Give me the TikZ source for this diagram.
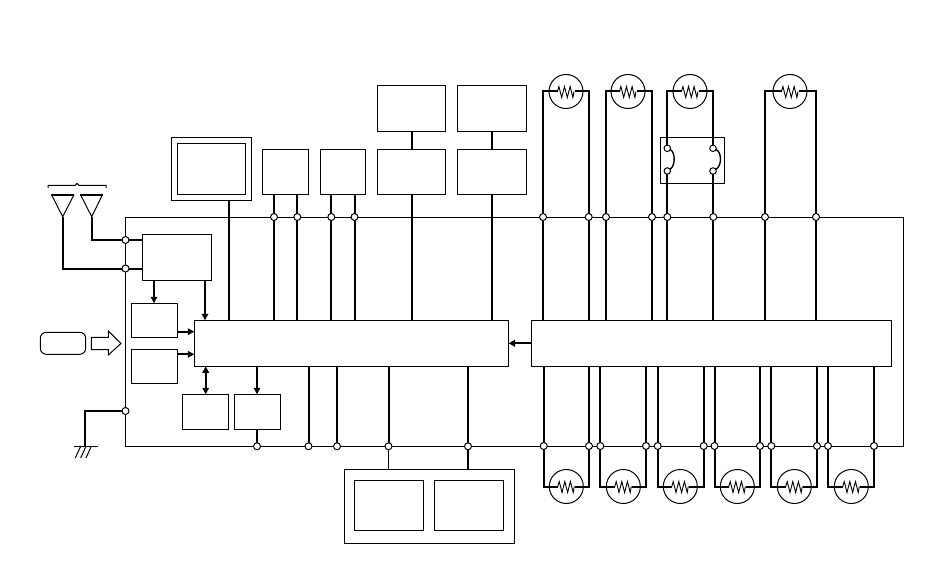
\documentclass[tikz,border=0pt]{standalone}
\usetikzlibrary{arrows.meta}
\pgfdeclarelayer{bg}
\pgfsetlayers{bg,main}
\tikzset{
  thinl/.style={line width=1pt,draw=black},
  wire/.style={line width=2pt,draw=black,line join=miter},
  box/.style={draw=black,line width=1pt,fill=none,inner sep=0pt,outer sep=0pt,rectangle},
  pin/.style={circle,draw=black,line width=1pt,fill=white,inner sep=0pt,minimum size=7pt,outer sep=0pt},
  bulb/.style={circle,draw=black,line width=1pt,inner sep=0pt,minimum size=34pt,outer sep=0pt},
  arr/.style={wire,-{Triangle[length=6.5pt,width=6.5pt]}},
  darr/.style={wire,{Triangle[length=6.5pt,width=6.5pt]}-{Triangle[length=6.5pt,width=6.5pt]}},
}
\newcommand{\bx}[5]{\node[box,minimum width={(#4-#2)*1pt},minimum height={(#5-#3)*1pt}] (#1) at ({(#2+#4)/2},{(#3+#5)/2}) {};}
\newcommand{\lampnode}[3]{%
  \node[bulb] (#1) at (#2,#3) {};
  \coordinate (#1-l) at (#2-8.5,#3);
  \coordinate (#1-r) at (#2+8.5,#3);
  \draw[line width=.9pt] (#1-l) -- ++(1.4,-5) -- ++(2.8,11) -- ++(2.8,-11) -- ++(2.8,11) -- ++(2.8,-11) -- ++(2.8,11) -- ++(1.1,-6);
}
\begin{document}
\begin{tikzpicture}[x=1pt,y=-1pt]
\useasboundingbox (0,0) rectangle (950,588);
% boxes
\bx{board}{125.5}{217.3}{903}{446.3}
\bx{tuner}{142.3}{234.3}{211.7}{280.3}
\bx{boxa}{131.3}{303.3}{177.7}{337.3}
\bx{boxb}{131.3}{349.3}{177.7}{383.3}
\bx{core}{194.3}{320.3}{508.5}{366.3}
\bx{drv}{531}{320.3}{891}{366.3}
\bx{boxc}{182.3}{394.3}{228.7}{429.3}
\bx{boxd}{234.3}{394.3}{280.7}{429.3}
\bx{dispo}{171.3}{137.3}{251.3}{200.3}
\bx{dispi}{177.3}{143.3}{245.3}{194.3}
\bx{top1}{262.3}{149.3}{308.7}{194.3}
\bx{top2}{320.3}{149.3}{365.7}{194.3}
\bx{top3}{377.5}{149.3}{445.5}{194.3}
\bx{top4}{457.5}{149.3}{526.5}{194.3}
\bx{up3}{377.5}{85.5}{445.5}{131.3}
\bx{up4}{457.5}{85.5}{526.5}{131.3}
\bx{swbox}{660.3}{137.3}{724.7}{183.3}
\bx{panel}{344}{469.5}{514.5}{543.5}
\bx{pana}{354.5}{480.5}{423.5}{530.5}
\bx{panb}{434.5}{480.5}{503.5}{530.5}
\node[box,rounded corners=6pt,minimum width=45.4pt,minimum height=22pt] (remote) at (63,343.3) {};
% hollow arrow
\draw[thinl,line join=miter] (91.3,337.3) -- (108.3,337.3) -- (108.3,331) -- (121,343.5) -- (108.3,355) -- (108.3,349.7) -- (91.3,349.7) -- cycle;
% antennas
\coordinate (anta) at (62.7,216.7);
\coordinate (antb) at (91.7,216.7);
\draw[thinl] (51.5,194.7) -- (anta) -- (74,194.7);
\draw[thinl] (80.5,194.7) -- (antb) -- (102.5,194.7);
\draw[wire] (51.3,194.7) -- (74.3,194.7);
\draw[wire] (80.3,194.7) -- (102.7,194.7);
\draw[thinl] (48,188) -- (48,185.3) -- (75,185.3) -- (77,183.3) -- (79,185.3) -- (106,185.3) -- (106,188);
% ground
\coordinate (gnd) at (84.7,446.3);
\draw[thinl] (74,446.3) -- (97.7,446.3);
\draw[thinl] (80.7,446.3) -- (75.3,458);
\draw[thinl] (86,446.3) -- (80.7,458);
\draw[thinl] (91.3,446.3) -- (86,458);
% pins on the board edge
\node[pin] (pa1) at (125.5,240) {};
\node[pin] (pa2) at (125.5,268.5) {};
\node[pin] (pg) at (125.5,411) {};
\node[pin] (pd) at (257,446.3) {};
\foreach \n/\x in {1/274,2/297.3,3/331.3,4/354.5}
  \node[pin] (pt\n) at (\x,217) {};
\foreach \n/\x in {1/308.5,2/337,3/388.5,4/468}
  \node[pin] (pb\n) at (\x,446.3) {};
\foreach \n/\xa/\xb/\lx in {1/543/588.7/566,2/606/652/628,4/765/816/790}{
  \node[pin] (tl\n) at (\xa,217) {};
  \node[pin] (tr\n) at (\xb,217) {};
  \lampnode{lt\n}{\lx}{91.5}
  \begin{pgfonlayer}{bg}
    \draw[wire] (drv.north -| tl\n) -- (tl\n |- lt\n) -- (lt\n-l);
    \draw[wire] (drv.north -| tr\n) -- (tr\n |- lt\n) -- (lt\n-r);
  \end{pgfonlayer}
}
% lamp with the switches
\lampnode{lt3}{690}{91.5}
\node[pin] (tl3) at (667.3,217) {};
\node[pin] (tr3) at (713.3,217) {};
\node[pin,minimum size=6.5pt] (sa1) at (667.3,148.3) {};
\node[pin,minimum size=6.5pt] (sa2) at (667.3,171) {};
\node[pin,minimum size=6.5pt] (sb1) at (713,148.3) {};
\node[pin,minimum size=6.5pt] (sb2) at (713,171) {};
\draw[line width=1.4pt] (sa1) .. controls (675.5,152) and (675.5,166) .. (sa2);
\draw[line width=1.4pt] (sb1) .. controls (722,152) and (722,166) .. (sb2);
\begin{pgfonlayer}{bg}
  \draw[wire] (sa1) -- (sa1 |- lt3) -- (lt3-l);
  \draw[wire] (sb1) -- (sb1 |- lt3) -- (lt3-r);
  \draw[wire] (drv.north -| tl3) -- (sa2 -| tl3);
  \draw[wire] (drv.north -| tr3) -- (sb2 -| tr3);
\end{pgfonlayer}
% lower lamps
\foreach \n/\xa/\xb/\lx in {1/543.7/589/566.3,2/600.3/646/623.3,3/657.7/703.7/680.3,4/714.5/760/737.3,5/771.3/817/794.3,6/828/874/851.3}{
  \node[pin] (bl\n) at (\xa,446) {};
  \node[pin] (br\n) at (\xb,446) {};
  \lampnode{lb\n}{\lx}{486.5}
  \begin{pgfonlayer}{bg}
    \draw[wire] (drv.south -| bl\n) -- (bl\n |- lb\n) -- (lb\n-l);
    \draw[wire] (drv.south -| br\n) -- (br\n |- lb\n) -- (lb\n-r);
  \end{pgfonlayer}
}
\begin{pgfonlayer}{bg}
  % antenna and ground wires
  \draw[wire] (antb) |- (pa1) -- (tuner.west |- pa1);
  \draw[wire] (anta) |- (pa2) -- (tuner.west |- pa2);
  \draw[wire] (pg) -| (gnd);
  % top side of the core
  \draw[wire] (229,200.3) -- (229,320.3);
  \foreach \n in {1,2,3,4}
    \draw[wire] (pt\n |- top1.south) -- (pt\n |- core.north);
  \draw[wire] (412,131.3) -- (412,149.3);
  \draw[wire] (412,194.3) -- (412,320.3);
  \draw[wire] (492,131.3) -- (492,149.3);
  \draw[wire] (492,194.3) -- (492,320.3);
  % underside of the core
  \foreach \n in {1,2,3,4}
    \draw[wire] (pb\n |- core.south) -- (pb\n);
  \draw[wire,line width=1.4pt] (pb3) -- (pb3 |- panel.north);
  \draw[wire,line width=1.4pt] (pb4) -- (pb4 |- panel.north);
  \draw[wire] (pd |- boxd.south) -- (pd);
\end{pgfonlayer}
% arrows
\draw[arr] (154,280.3) -- (154,303.3);
\draw[arr] (205,280.3) -- (205,320.3);
\draw[arr] (177.7,331.7) -- (194.3,331.7);
\draw[arr] (177.7,354.3) -- (194.3,354.3);
\draw[darr] (205.7,366.3) -- (205.7,394.3);
\draw[arr] (257,366.3) -- (257,394.3);
\draw[arr] (drv.west) -- (core.east);
\end{tikzpicture}
\end{document}
